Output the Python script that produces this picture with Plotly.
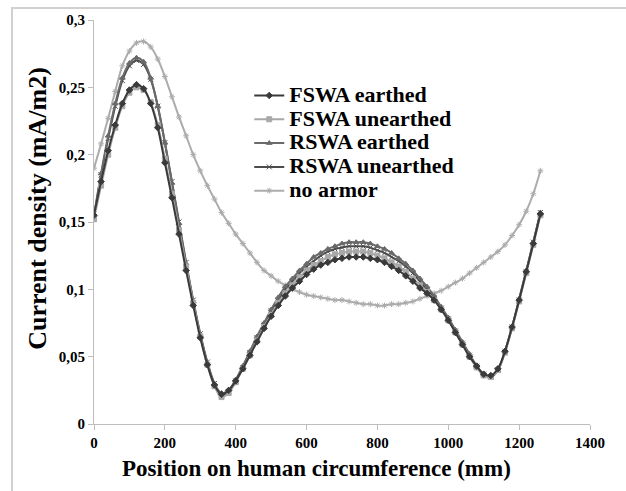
import plotly.graph_objects as go

positions = [0, 20, 40, 60, 80, 100, 120, 140, 160, 180, 200, 220, 240, 260, 280, 300,
             320, 340, 360, 380, 400, 420, 440, 460, 480, 500, 520, 540, 560, 580, 600, 620,
             640, 660, 680, 700, 720, 740, 760, 780, 800, 820, 840, 860, 880, 900, 920, 940,
             960, 980, 1000, 1020, 1040, 1060, 1080, 1100, 1120, 1140, 1160, 1180, 1200, 1220, 1240, 1260]

fswa_earthed = [0.155, 0.180, 0.203, 0.222, 0.238, 0.248, 0.252, 0.249, 0.238, 0.220, 0.194, 0.168, 0.141, 0.114, 0.088, 0.064,
                0.044, 0.029, 0.022, 0.025, 0.032, 0.041, 0.051, 0.061, 0.071, 0.080, 0.088, 0.095, 0.101, 0.106, 0.111, 0.115,
                0.118, 0.120, 0.122, 0.123, 0.124, 0.124, 0.124, 0.123, 0.122, 0.120, 0.117, 0.114, 0.110, 0.106, 0.101, 0.097,
                0.092, 0.085, 0.077, 0.068, 0.059, 0.050, 0.043, 0.037, 0.036, 0.041, 0.054, 0.072, 0.092, 0.113, 0.134, 0.156]

fswa_unearthed = [0.152, 0.177, 0.200, 0.220, 0.236, 0.246, 0.250, 0.248, 0.239, 0.222, 0.197, 0.171, 0.144, 0.117, 0.090, 0.065,
                  0.044, 0.028, 0.020, 0.023, 0.031, 0.041, 0.051, 0.062, 0.072, 0.081, 0.090, 0.097, 0.103, 0.109, 0.114, 0.118,
                  0.121, 0.124, 0.126, 0.127, 0.128, 0.128, 0.128, 0.127, 0.125, 0.123, 0.120, 0.117, 0.113, 0.108, 0.103, 0.098,
                  0.092, 0.085, 0.077, 0.068, 0.059, 0.050, 0.042, 0.036, 0.035, 0.040, 0.053, 0.071, 0.091, 0.112, 0.133, 0.155]

rswa_earthed = [0.155, 0.186, 0.214, 0.238, 0.257, 0.268, 0.272, 0.269, 0.257, 0.236, 0.209, 0.179, 0.149, 0.119, 0.091, 0.066,
                0.045, 0.030, 0.023, 0.025, 0.033, 0.043, 0.054, 0.065, 0.075, 0.085, 0.094, 0.102, 0.108, 0.114, 0.119, 0.124,
                0.127, 0.130, 0.132, 0.134, 0.135, 0.135, 0.135, 0.134, 0.132, 0.130, 0.127, 0.123, 0.119, 0.114, 0.108, 0.102,
                0.095, 0.087, 0.079, 0.070, 0.061, 0.052, 0.043, 0.037, 0.035, 0.040, 0.054, 0.072, 0.093, 0.114, 0.135, 0.157]

rswa_unearthed = [0.154, 0.185, 0.212, 0.236, 0.255, 0.266, 0.270, 0.267, 0.256, 0.236, 0.209, 0.180, 0.150, 0.120, 0.092, 0.067,
                  0.046, 0.030, 0.022, 0.024, 0.032, 0.042, 0.053, 0.064, 0.074, 0.084, 0.092, 0.100, 0.106, 0.112, 0.117, 0.121,
                  0.125, 0.128, 0.130, 0.131, 0.132, 0.132, 0.132, 0.131, 0.129, 0.127, 0.124, 0.121, 0.117, 0.112, 0.106, 0.100,
                  0.094, 0.086, 0.078, 0.069, 0.060, 0.051, 0.043, 0.037, 0.035, 0.040, 0.054, 0.072, 0.092, 0.113, 0.135, 0.157]

no_armor = [0.190, 0.208, 0.227, 0.247, 0.266, 0.277, 0.283, 0.284, 0.280, 0.271, 0.258, 0.243, 0.228, 0.214, 0.200, 0.188,
            0.177, 0.167, 0.157, 0.149, 0.141, 0.134, 0.127, 0.120, 0.114, 0.110, 0.106, 0.103, 0.100, 0.098, 0.096, 0.095,
            0.094, 0.093, 0.092, 0.092, 0.091, 0.090, 0.089, 0.089, 0.088, 0.088, 0.089, 0.089, 0.090, 0.091, 0.093, 0.095,
            0.097, 0.099, 0.102, 0.105, 0.108, 0.112, 0.116, 0.120, 0.124, 0.128, 0.133, 0.140, 0.148, 0.158, 0.171, 0.188]

x_ticks = [0, 200, 400, 600, 800, 1000, 1200, 1400]
x_tick_labels = ["0", "200", "400", "600", "800", "1000", "1200", "1400"]
y_ticks = [0, 0.05, 0.1, 0.15, 0.2, 0.25, 0.3]
y_tick_labels = ["0", "0,05", "0,1", "0,15", "0,2", "0,25", "0,3"]

series_names = ["FSWA earthed", "FSWA unearthed", "RSWA earthed", "RSWA unearthed", "no armor"]
series_values = [fswa_earthed, fswa_unearthed, rswa_earthed, rswa_unearthed, no_armor]
series_colors = ["#3a3a3a", "#a8a8a8", "#6a6a6a", "#4c4c4c", "#acacac"]
series_symbols = ["diamond", "square", "triangle-up", "x-thin-open", "asterisk-open"]
series_sizes = [5, 5, 5, 5, 5]

FONT = "Liberation Serif"

fig = go.Figure()
for name, vals, col, sym, sz in reversed(list(zip(series_names, series_values, series_colors, series_symbols, series_sizes))):
    fig.add_trace(go.Scatter(
        x=positions, y=vals,
        name='<span style="font-size:22px"><b>' + name + "</b></span>",
        mode="lines+markers",
        line=dict(color=col, width=2, shape="spline"),
        marker=dict(symbol=sym, size=sz, color=col, line=dict(color=col, width=1)),
    ))

fig.update_layout(
    width=626, height=491,
    margin=dict(l=94, r=36, t=20, b=67),
    paper_bgcolor="white", plot_bgcolor="white",
    font=dict(family=FONT, color="black"),
    showlegend=True,
    legend=dict(
        x=0.313, y=0.855, xanchor="left", yanchor="top",
        traceorder="reversed",
        font=dict(family=FONT, size=16, color="black"),
        bgcolor="rgba(0,0,0,0)", itemwidth=30, tracegroupgap=0,
    ),
    xaxis=dict(
        range=[0, 1400], tickvals=x_ticks, ticktext=["<b>" + t + "</b>" for t in x_tick_labels],
        showgrid=False, zeroline=False, showline=True, linecolor="#bdbdbd", linewidth=1,
        ticks="outside", ticklen=5, tickcolor="#bdbdbd",
        tickfont=dict(family=FONT, size=15, color="black"),
    ),
    yaxis=dict(
        range=[0, 0.3], tickvals=y_ticks, ticktext=["<b>" + t + "</b>" for t in y_tick_labels],
        showgrid=False, zeroline=False, showline=True, linecolor="#bdbdbd", linewidth=1,
        ticks="outside", ticklen=5, tickcolor="#bdbdbd",
        tickfont=dict(family=FONT, size=15, color="black"),
    ),
    annotations=[
        dict(text="<b>Position on human circumference (mm)</b>", xref="paper", yref="paper",
             x=0.4476, y=-0.109, xanchor="center", yanchor="middle", showarrow=False,
             font=dict(family=FONT, size=23, color="black")),
        dict(text="<b>Current density (mA/m2)</b>", xref="paper", yref="paper",
             x=-0.113, y=0.535, xanchor="center", yanchor="middle", showarrow=False, textangle=-90,
             font=dict(family=FONT, size=26, color="black")),
    ],
    shapes=[
        dict(type="rect", xref="paper", yref="paper", x0=-0.1653, y0=-0.3, x1=1.2, y1=1.0297,
             line=dict(color="#d0d0d0", width=2), layer="below"),
    ],
)

fig.write_html("out.html")
